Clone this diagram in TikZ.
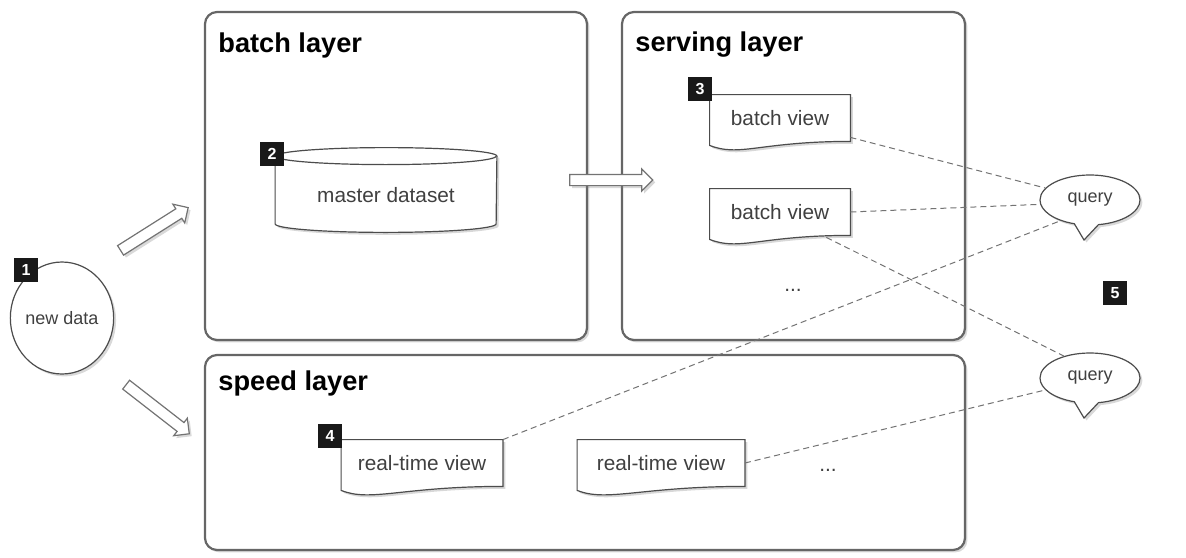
\documentclass[tikz,border=0pt]{standalone}
\usepackage{fontspec}
\setmainfont{Liberation Sans}
\usetikzlibrary{shapes}
\usetikzlibrary{shapes.arrows}
\usetikzlibrary{shapes.callouts}
\usetikzlibrary{shadows}
\usetikzlibrary{backgrounds}

\tikzset{
  shade/.style={drop shadow={shadow xshift=1.2pt,shadow yshift=-1.2pt,opacity=0.3}},
  layerbox/.style={draw=black!60,line width=1.1pt,fill=white,rounded corners=6pt,shade},
  layertitle/.style={anchor=west,inner sep=0pt,font=\fontsize{13.6}{15}\selectfont\bfseries},
  badge/.style={fill=black!90,text=white,minimum size=12pt,inner sep=0pt,font=\fontsize{8}{9}\selectfont\bfseries},
  plain/.style={text=black!75,font=\fontsize{10.4}{12}\selectfont},
  docline/.style={draw=black!70,fill=white,line width=0.6pt,shade},
  fatarrow/.style={single arrow,draw=black!55,fill=white,line width=0.6pt,inner sep=0pt,inner ysep=2.5pt,single arrow head extend=2.75pt,single arrow head indent=0pt,shade},
  bubble/.style={ellipse callout,draw=black!70,fill=white,line width=0.6pt,minimum width=50pt,minimum height=25pt,inner sep=0pt,callout pointer arc=28,plain,font=\fontsize{9}{11}\selectfont,shade},
  link/.style={draw=black!55,dash pattern=on 3pt off 2pt,line width=0.5pt}
}

% wavy document outline round a text node
\newcommand{\docframe}[1]{%
  \path[docline] (#1.north west) -- (#1.north east) -- (#1.south east)
    .. controls ([xshift=-10pt]#1.south) and ([xshift=15pt,yshift=-8pt]#1.south west)
    .. ([yshift=-2pt]#1.south west) -- cycle;}

\begin{document}
\begin{tikzpicture}[x=0.5pt,y=-0.5pt]
    \useasboundingbox (0,0) rectangle (1186,557);

      % defines
      \pgfmathsetmacro\LayerMidY{176} % upper layers Y
      \pgfmathsetmacro\ViewY{463} % real-time views Y

      % draw layer boxes (behind everything)
      \begin{scope}[on background layer]
        \node (BL) at (396,\LayerMidY) [layerbox,minimum width=191pt,minimum height=164pt] {};
        \node (SL) at (793.5,\LayerMidY) [layerbox,minimum width=171.5pt,minimum height=164pt] {};
        \node (SPL) at (585,452.5) [layerbox,minimum width=380pt,minimum height=97.5pt] {};
      \end{scope}
      \node (BLT) at (218,45) [layertitle] {batch layer};
      \node (SLT) at (635,45) [layertitle] {serving layer};
      \node (SPLT) at (218,383) [layertitle] {speed layer};

      % draw new data and the arrows into the layers
      \node (ND) at (62,318) [ellipse,draw=black!70,fill=white,line width=0.6pt,minimum width=50pt,minimum height=56pt,inner sep=0pt,plain,font=\fontsize{9}{11}\selectfont,shade] {new data};
      \coordinate (UA0) at (118,252);
      \coordinate (UA1) at (186,209);
      \coordinate (DA0) at (124,383);
      \coordinate (DA1) at (187,432);
      \path (UA0) -- (UA1) node[fatarrow,sloped,midway,minimum height=40pt] {};
      \path (DA0) -- (DA1) node[fatarrow,sloped,midway,minimum height=40pt] {};

      % draw master dataset
      \node (MD) at (386,190) [plain,minimum width=110.5pt,minimum height=33.5pt,text height=12pt,text depth=0pt] {master dataset};
      \begin{scope}[on background layer]
        \path[docline] (MD.north west) -- (MD.south west)
          arc[start angle=180,end angle=360,x radius=55.25pt,y radius=4.25pt]
          -- (MD.north east) arc[start angle=0,end angle=180,x radius=55.25pt,y radius=4.25pt] -- cycle;
        \draw[draw=black!70,line width=0.6pt] (MD.north west) arc[start angle=180,end angle=360,x radius=55.25pt,y radius=4.25pt];
      \end{scope}
      \coordinate (RA0) at (567,180);
      \coordinate (RA1) at (650,180);
      \path (RA0) -- (RA1) node[fatarrow,midway,minimum height=41.5pt] {};

      % draw batch views
      \node (BV1) at (780,118) [plain,minimum width=70pt,minimum height=23pt] {batch view};
      \node (BV2) at (780,212) [plain,minimum width=70pt,minimum height=23pt] {batch view};
      \node (BD) at (793,290) [plain] {...};

      % draw real-time views
      \node (RT1) at (422,\ViewY) [plain,minimum width=80.5pt,minimum height=23pt] {real-time view};
      \node (RT2) at (661,\ViewY) [plain,minimum width=83.5pt,minimum height=23pt] {real-time view};
      \node (RD) at (828,470) [plain] {...};
      \begin{scope}[on background layer]
        \docframe{BV1}
        \docframe{BV2}
        \docframe{RT1}
        \docframe{RT2}
      \end{scope}

      % draw queries and dashed links
      \coordinate (Q1T) at (1084,240);
      \coordinate (Q2T) at (1084,418);
      \node (Q1) at (1090,200) [bubble,callout absolute pointer={(Q1T)}] {query};
      \node (Q2) at (1090,378) [bubble,callout absolute pointer={(Q2T)}] {query};
      \draw[link] ([yshift=2pt]BV1.south east) -- (Q1.165);
      \draw[link] (BV2.east) -- (Q1.185);
      \draw[link] ([xshift=-12pt,yshift=-1pt]BV2.south east) -- (Q2.140);
      \draw[link] (RT1.north east) -- (Q1.215);
      \draw[link] (RT2.east) -- (Q2.195);

      % draw number badges
      \node (B1) at (26,270) [badge] {1};
      \node (B2) at (272,154) [badge] {2};
      \node (B3) at (700,89) [badge] {3};
      \node (B4) at (330,436) [badge] {4};
      \node (B5) at (1115,293) [badge] {5};

\end{tikzpicture}
\end{document}
